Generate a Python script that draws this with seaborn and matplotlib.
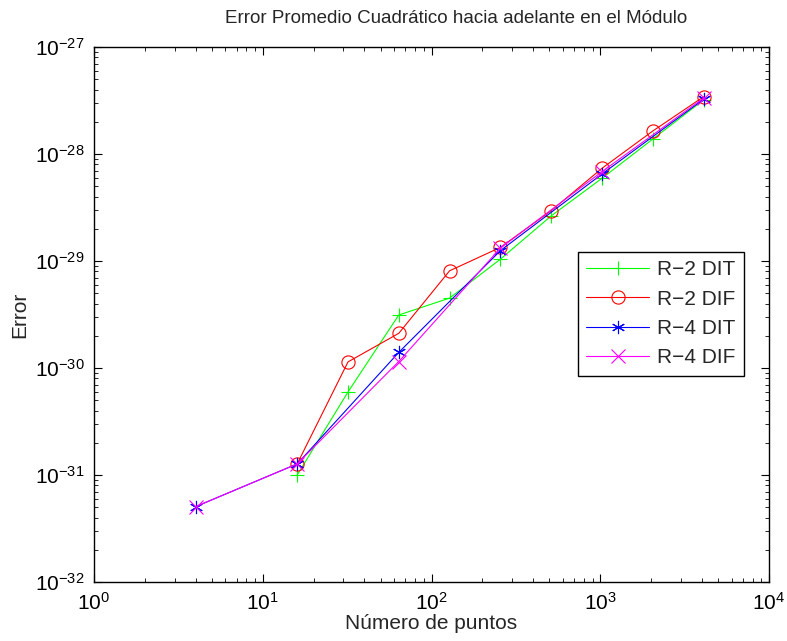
import matplotlib
matplotlib.use("Agg")
import matplotlib.pyplot as plt
import seaborn as sns
import numpy as np
import pandas as pd
from matplotlib.ticker import LogLocator, NullFormatter, FixedLocator

# Data
n_r2 = [16, 32, 64, 128, 256, 512, 1024, 2048, 4096]
n_r4 = [4, 16, 64, 256, 1024, 4096]
r2_dit = [1.0e-31, 5.97e-31, 3.13e-30, 4.5e-30, 1.04e-29, 2.64e-29, 5.93e-29, 1.38e-28, 3.2e-28]
r2_dif = [1.27e-31, 1.14e-30, 2.11e-30, 8.1e-30, 1.34e-29, 2.95e-29, 7.35e-29, 1.64e-28, 3.43e-28]
r4_dit = [5.06e-32, 1.27e-31, 1.40e-30, 1.25e-29, 6.5e-29, 3.25e-28]
r4_dif = [5.06e-32, 1.27e-31, 1.15e-30, 1.32e-29, 6.84e-29, 3.33e-28]
labels = ["R\u22122 DIT", "R\u22122 DIF", "R\u22124 DIT", "R\u22124 DIF"]
x_ticks = [1e0, 1e1, 1e2, 1e3, 1e4]
y_ticks = [1e-32, 1e-31, 1e-30, 1e-29, 1e-28, 1e-27]
title = "Error Promedio Cuadrático hacia adelante en el Módulo"
xlabel = "Número de puntos"
ylabel = "Error"

sns.set_style("white")
plt.rcParams["font.family"] = ["Liberation Sans", "DejaVu Sans"]
plt.rcParams["mathtext.fontset"] = "custom"
plt.rcParams["mathtext.rm"] = "Liberation Sans"
plt.rcParams["mathtext.it"] = "Liberation Sans:italic"
plt.rcParams["mathtext.bf"] = "Liberation Sans:bold"

fig = plt.figure(figsize=(7.87, 6.41), dpi=100)
ax = fig.add_axes([94/787, 1-582/641, (769-94)/787, (582-47)/641])

asterisk = (6, 2, 0)
series = [
    (n_r2, r2_dit, "#00ff00", "+", "none"),
    (n_r2, r2_dif, "#ff0000", "o", "none"),
    (n_r4, r4_dit, "#0000ff", asterisk, "none"),
    (n_r4, r4_dif, "#ff00ff", "x", "none"),
]
for (xs, ys, c, m, fc), lab in zip(series, labels):
    df = pd.DataFrame({"n": xs, "err": ys})
    sns.lineplot(data=df, x="n", y="err", ax=ax, color=c, marker=m,
                 markersize=9.5, markerfacecolor=fc, markeredgecolor=c,
                 markeredgewidth=0.8, linewidth=0.8, label=lab)

ax.set_xscale("log")
ax.set_yscale("log")
ax.set_xlim(x_ticks[0], x_ticks[-1])
ax.set_ylim(y_ticks[0], y_ticks[-1])

ax.xaxis.set_major_locator(FixedLocator(x_ticks))
ax.yaxis.set_major_locator(FixedLocator(y_ticks))
ax.xaxis.set_minor_locator(LogLocator(base=10, subs=np.arange(2, 10), numticks=20))
ax.yaxis.set_minor_locator(LogLocator(base=10, subs=np.arange(2, 10), numticks=20))
ax.xaxis.set_minor_formatter(NullFormatter())
ax.yaxis.set_minor_formatter(NullFormatter())

ax.tick_params(which="both", direction="in", top=True, right=True,
               bottom=True, left=True, colors="black", labelsize=15)
ax.tick_params(which="major", length=6, width=0.8, pad=7)
ax.tick_params(which="minor", length=3, width=0.6)
for s in ax.spines.values():
    s.set_color("black")
    s.set_linewidth(1.0)

ax.set_title(title, fontsize=13.5, pad=17, x=0.536)
ax.set_xlabel(xlabel, fontsize=15, labelpad=0)
ax.set_ylabel(ylabel, fontsize=15, labelpad=4)

leg = ax.legend(loc="upper left", bbox_to_anchor=(0.717, 0.617), fontsize=15,
                frameon=True, fancybox=False, edgecolor="black", framealpha=1,
                handlelength=3.0, borderpad=0.4, labelspacing=0.5,
                handletextpad=0.4, borderaxespad=0)
leg.get_frame().set_linewidth(1.0)

fig.savefig("out.png", dpi=100, facecolor="white")
